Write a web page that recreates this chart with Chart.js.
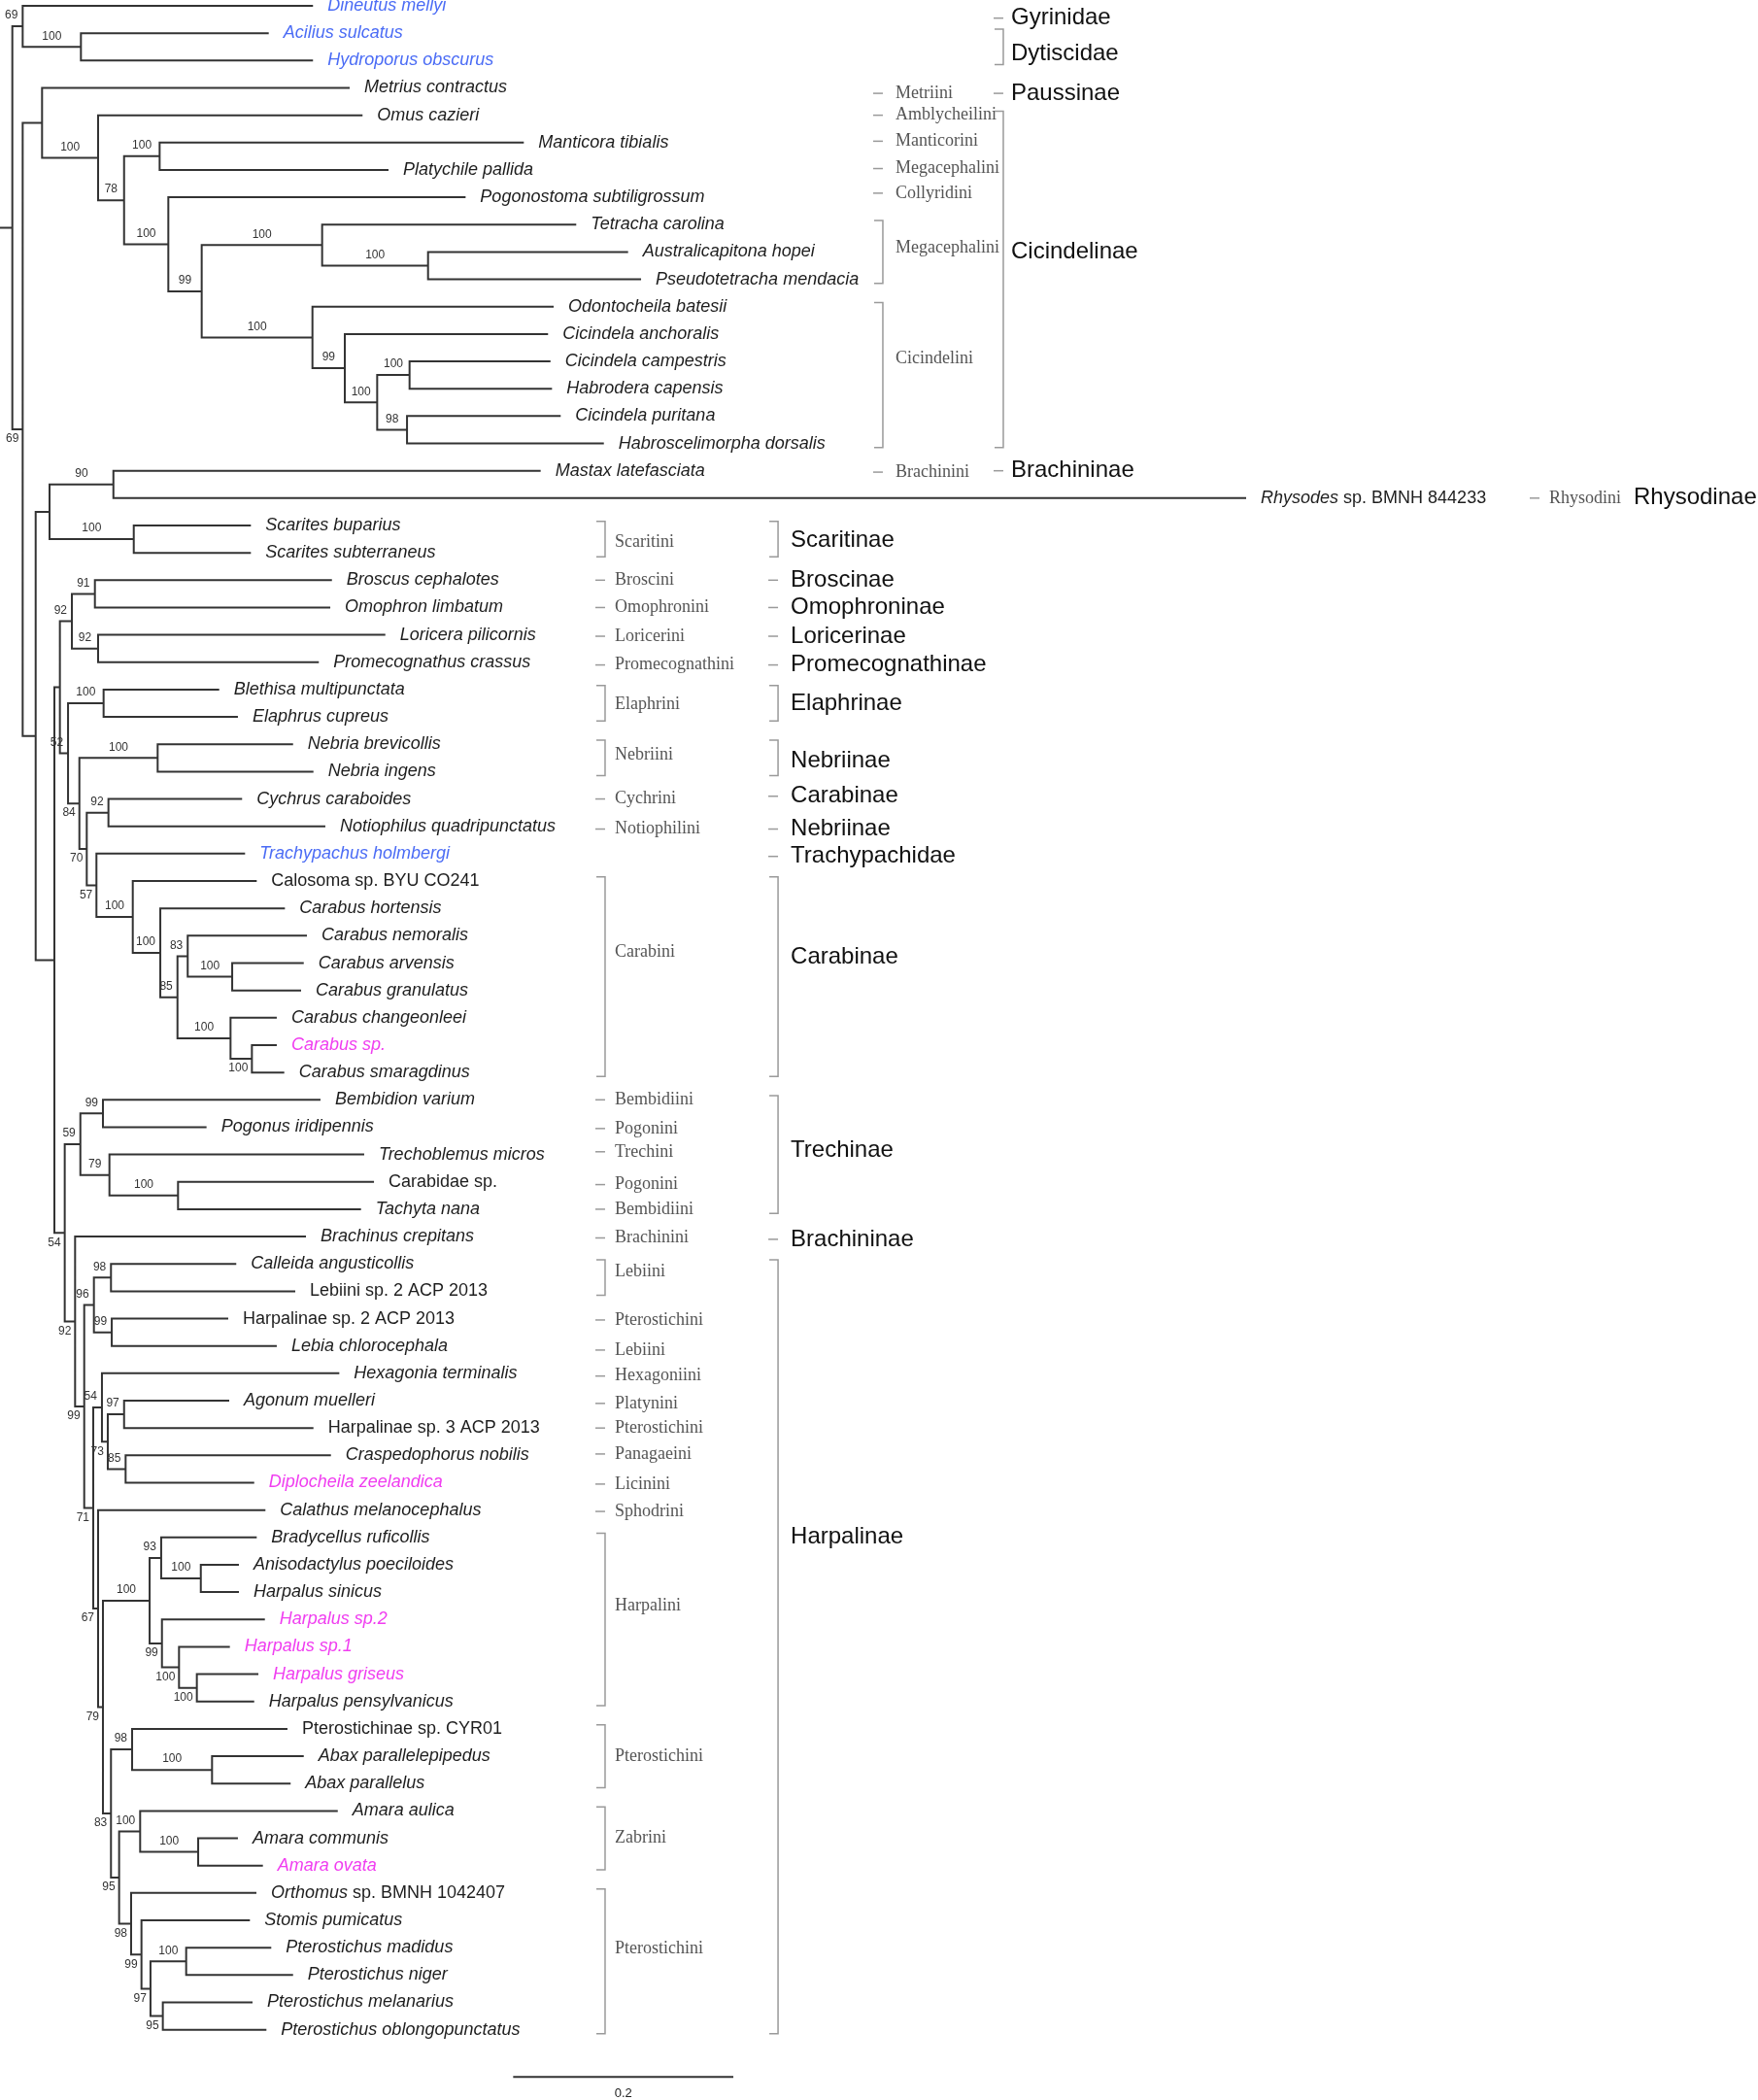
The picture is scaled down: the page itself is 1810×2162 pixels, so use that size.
<!DOCTYPE html>
<html>
<head>
<meta charset="utf-8">
<title>Carabidae phylogeny</title>
<script src="https://cdn.jsdelivr.net/npm/chart.js@4.4.1/dist/chart.umd.min.js"></script>
<style>
  html, body { margin: 0; padding: 0; background: #fff; }
  #wrap { width: 1810px; height: 2162px; }
</style>
</head>
<body>
<div id="wrap"><canvas id="tree" width="1810" height="2162"></canvas></div>
<script>
// ── taxa, top to bottom (row index = position in this list)
const taxa = [
  "Dineutus mellyi", "Acilius sulcatus", "Hydroporus obscurus", "Metrius contractus",
  "Omus cazieri", "Manticora tibialis", "Platychile pallida", "Pogonostoma subtiligrossum",
  "Tetracha carolina", "Australicapitona hopei", "Pseudotetracha mendacia", "Odontocheila batesii",
  "Cicindela anchoralis", "Cicindela campestris", "Habrodera capensis", "Cicindela puritana",
  "Habroscelimorpha dorsalis", "Mastax latefasciata", "Rhysodes sp. BMNH 844233", "Scarites buparius",
  "Scarites subterraneus", "Broscus cephalotes", "Omophron limbatum", "Loricera pilicornis",
  "Promecognathus crassus", "Blethisa multipunctata", "Elaphrus cupreus", "Nebria brevicollis",
  "Nebria ingens", "Cychrus caraboides", "Notiophilus quadripunctatus", "Trachypachus holmbergi",
  "Calosoma sp. BYU CO241", "Carabus hortensis", "Carabus nemoralis", "Carabus arvensis",
  "Carabus granulatus", "Carabus changeonleei", "Carabus sp.", "Carabus smaragdinus",
  "Bembidion varium", "Pogonus iridipennis", "Trechoblemus micros", "Carabidae sp.",
  "Tachyta nana", "Brachinus crepitans", "Calleida angusticollis", "Lebiini sp. 2 ACP 2013",
  "Harpalinae sp. 2 ACP 2013", "Lebia chlorocephala", "Hexagonia terminalis", "Agonum muelleri",
  "Harpalinae sp. 3 ACP 2013", "Craspedophorus nobilis", "Diplocheila zeelandica", "Calathus melanocephalus",
  "Bradycellus ruficollis", "Anisodactylus poeciloides", "Harpalus sinicus", "Harpalus sp.2",
  "Harpalus sp.1", "Harpalus griseus", "Harpalus pensylvanicus", "Pterostichinae sp. CYR01",
  "Abax parallelepipedus", "Abax parallelus", "Amara aulica", "Amara communis",
  "Amara ovata", "Orthomus sp. BMNH 1042407", "Stomis pumicatus", "Pterostichus madidus",
  "Pterostichus niger", "Pterostichus melanarius", "Pterostichus oblongopunctatus"
];

// distance of each tip from the root (substitutions/site)
const tipX = [
  0.2843, 0.2441, 0.2843, 0.3176, 0.3293, 0.4758, 0.3529, 0.4229, 0.5234, 0.5705,
  0.5823, 0.5029, 0.4978, 0.5000, 0.5014, 0.5093, 0.5485, 0.4911, 1.1319, 0.2279,
  0.2279, 0.3015, 0.3000, 0.3500, 0.2896, 0.1991, 0.2161, 0.2662, 0.2847, 0.2199,
  0.2955, 0.2226, 0.2332, 0.2588, 0.2788, 0.2759, 0.2735, 0.2514, 0.2514, 0.2582,
  0.2911, 0.1876, 0.3308, 0.3397, 0.3279, 0.2779, 0.2146, 0.2682, 0.2073, 0.2514,
  0.3082, 0.2082, 0.2847, 0.3006, 0.2309, 0.2411, 0.2332, 0.2170, 0.2170, 0.2406,
  0.2088, 0.2347, 0.2309, 0.2611, 0.2759, 0.2640, 0.3068, 0.2161, 0.2388, 0.2329,
  0.2270, 0.2464, 0.2662, 0.2294, 0.2420
];

const blueTaxa = [0, 1, 2, 31];
const pinkTaxa = [38, 54, 59, 60, 61, 68];
const romanTaxa = [32, 43, 47, 48, 52, 63];
const genusItalicOnly = [18, 69];

// internal nodes: id, distance from root, children (numbers = tips), bootstrap
const nodes = [
  ["root", 0.0112, ["N1", "N2"], null],
  ["N1", 0.0206, [0, "N1a"], 69],
  ["N1a", 0.0735, [1, 2], 100],
  ["N2", 0.0206, ["N3", "Nlow"], 69],
  ["N3", 0.0382, [3, "N4"], null],
  ["N4", 0.0891, [4, "N5"], 100],
  ["N5", 0.1127, ["N6", "N7"], 78],
  ["N6", 0.1450, [5, 6], 100],
  ["N7", 0.1529, [7, "N8"], 100],
  ["N8", 0.1832, ["N9", "N10"], 99],
  ["N9", 0.2926, [8, "N9a"], 100],
  ["N9a", 0.3888, [9, 10], 100],
  ["N10", 0.2838, [11, "N11"], 100],
  ["N11", 0.3132, [12, "N12"], 99],
  ["N12", 0.3426, ["N13", "N14"], 100],
  ["N13", 0.3720, [13, 14], 100],
  ["N14", 0.3697, [15, 16], 98],
  ["Nlow", 0.0324, ["N15", "N16"], null],
  ["N15", 0.0450, ["N15a", "Nsc"], null],
  ["N15a", 0.1030, [17, 18], 90],
  ["Nsc", 0.1215, [19, 20], 100],
  ["N16", 0.0494, ["D", "N54"], null],
  ["D", 0.0544, ["A", "E"], null],
  ["A", 0.0653, ["B", "C"], 92],
  ["B", 0.0862, [21, 22], 91],
  ["C", 0.0891, [23, 24], 92],
  ["E", 0.0618, ["El", "F"], 52],
  ["El", 0.0941, [25, 26], 100],
  ["F", 0.0721, ["Neb", "G"], 84],
  ["Neb", 0.1432, [27, 28], 100],
  ["G", 0.0788, ["Cy", "H"], 70],
  ["Cy", 0.0985, [29, 30], 92],
  ["H", 0.0876, [31, "I"], 57],
  ["I", 0.1206, [32, "J"], 100],
  ["J", 0.1456, [33, "K"], 100],
  ["K", 0.1612, ["L", "M"], 85],
  ["L", 0.1705, [34, "Nn"], 83],
  ["Nn", 0.2109, [35, 36], 100],
  ["M", 0.2094, [37, "O"], 100],
  ["O", 0.2288, [38, 39], 100],
  ["N54", 0.0588, ["T", "P"], 54],
  ["T", 0.0730, ["T1", "T2"], 59],
  ["T1", 0.0935, [40, 41], 99],
  ["T2", 0.0994, [42, "T3"], 79],
  ["T3", 0.1617, [43, 44], 100],
  ["P", 0.0682, [45, "Q"], 92],
  ["Q", 0.0765, ["Rq1", "Rq2"], 99],
  ["Rq1", 0.0853, ["Le1", "Le2"], 96],
  ["Le1", 0.1008, [46, 47], 98],
  ["Le2", 0.1015, [48, 49], 99],
  ["Rq2", 0.0847, ["S", "U"], 71],
  ["S", 0.0926, [50, "S1"], 54],
  ["S1", 0.0979, ["S2", "S3"], 73],
  ["S2", 0.1127, [51, 52], 97],
  ["S3", 0.1141, [53, 54], 85],
  ["U", 0.0891, [55, "U3"], 67],
  ["U3", 0.0935, ["X", "AC"], 79],
  ["X", 0.1359, ["V", "Y"], 100],
  ["V", 0.1464, [56, "W"], 93],
  ["W", 0.1824, [57, 58], 100],
  ["Y", 0.1471, [59, "Z"], 99],
  ["Z", 0.1626, [60, "Z2"], 100],
  ["Z2", 0.1788, [61, 62], 100],
  ["AC", 0.1008, ["AA", "AD"], 83],
  ["AA", 0.1200, [63, "AB"], 98],
  ["AB", 0.1926, [64, 65], 100],
  ["AD", 0.1082, ["AE", "AF"], 95],
  ["AE", 0.1273, [66, "AG"], 100],
  ["AG", 0.1800, [67, 68], 100],
  ["AF", 0.1191, [69, "AH"], 98],
  ["AH", 0.1285, [70, "AI"], 99],
  ["AI", 0.1367, ["AJ", "AK"], 97],
  ["AJ", 0.1691, [71, 72], 100],
  ["AK", 0.1479, [73, 74], 95]
];
// bootstrap values printed under the branch instead of above it
const labelsBelow = ["N2", "F", "G", "H", "O", "N54", "P", "Q", "Rq2", "S1", "U", "U3",
  "Y", "Z", "Z2", "AC", "AD", "AF", "AH", "AI", "AK"];

// tribes / subfamilies: [name, row] or [name, firstRow, lastRow, labelRow]
const tribeSingles = [
  ["Metriini", 3.2], ["Amblycheilini", 4], ["Manticorini", 4.95], ["Megacephalini", 5.95],
  ["Collyridini", 6.85], ["Brachinini", 17.05], ["Rhysodini", 18], ["Broscini", 21],
  ["Omophronini", 22], ["Loricerini", 23.05], ["Promecognathini", 24.1], ["Cychrini", 29],
  ["Notiophilini", 30.1], ["Bembidiini", 40], ["Pogonini", 41.05], ["Trechini", 41.9],
  ["Pogonini", 43.1], ["Bembidiini", 44], ["Brachinini", 45.05], ["Pterostichini", 48.05],
  ["Lebiini", 49.15], ["Hexagoniini", 50.1], ["Platynini", 51.1], ["Pterostichini", 52],
  ["Panagaeini", 52.95], ["Licinini", 54.05], ["Sphodrini", 55.05]
];
const tribeGroups = [
  ["Megacephalini", 8, 10, 8.85], ["Cicindelini", 11, 16, 12.9], ["Scaritini", 19, 20, 19.6],
  ["Elaphrini", 25, 26, 25.55], ["Nebriini", 27, 28, 27.4], ["Carabini", 32, 39, 34.6],
  ["Lebiini", 46, 47, 46.3], ["Harpalini", 56, 62, 58.5], ["Pterostichini", 63, 65, 64],
  ["Zabrini", 66, 68, 67], ["Pterostichini", 69, 74, 71.05]
];
const subSingles = [
  ["Gyrinidae", 0.45], ["Paussinae", 3.2], ["Brachininae", 17], ["Rhysodinae", 18],
  ["Broscinae", 21], ["Omophroninae", 22], ["Loricerinae", 23.05], ["Promecognathinae", 24.1],
  ["Carabinae", 28.9], ["Nebriinae", 30.1], ["Trachypachidae", 31.1], ["Brachininae", 45.1]
];
const subGroups = [
  ["Dytiscidae", 1, 2, 1.75], ["Cicindelinae", 4, 16, 9], ["Scaritinae", 19, 20, 19.55],
  ["Elaphrinae", 25, 26, 25.5], ["Nebriinae", 27, 28, 27.6], ["Carabinae", 32, 39, 34.8],
  ["Trechinae", 40, 44, 41.85], ["Harpalinae", 46, 74, 56]
];

const scaleBarLen = 0.2;

// ── build tree geometry
const byId = {};
const parentOf = {};
nodes.forEach(([id, x, kids, sup]) => {
  byId[id] = { id, x, kids, sup };
  kids.forEach((k) => { if (typeof k === "string") parentOf[k] = id; });
});
function nodeY(n) {
  if (n.y === undefined) {
    const ys = n.kids.map(yOf);
    n.y = (Math.min(...ys) + Math.max(...ys)) / 2;
  }
  return n.y;
}
function yOf(c) { return typeof c === "number" ? c : nodeY(byId[c]); }
function xOf(c) { return typeof c === "number" ? tipX[c] : byId[c].x; }

const root = byId.root;
const branchPts = [{ x: 0, y: nodeY(root) }, { x: root.x, y: root.y }, { x: 0, y: null }];
nodes.forEach(([id]) => {
  const n = byId[id];
  nodeY(n);
  n.kids.forEach((c) => {
    branchPts.push({ x: n.x, y: n.y }, { x: n.x, y: yOf(c) }, { x: xOf(c), y: yOf(c) }, { x: n.x, y: null });
  });
});

// layout of the page (axis units)
const X_MAX = 1.5968, Y_MIN = -0.213, Y_MAX = 76.57;
const scaleBarRow = 75.73, scaleBarX = 0.4661;
const cols = {
  tribe: { top: [0.8019, 13], rhys: [1.3983, 10], mid: [0.5496, 10] },
  sub: { top: [0.9113, 8], rhys: [1.4768, 8], mid: [0.7067, 13] }
};
const colFor = (row) => (row < 17.5 ? "top" : row < 18.5 ? "rhys" : "mid");

const SANS = '"Liberation Sans", Arial, Helvetica, sans-serif';
const SERIF = '"Liberation Serif", "Times New Roman", serif';

const annotations = {
  id: "annotations",
  afterDatasetsDraw(chart) {
    const { ctx, scales: { x, y } } = chart;
    ctx.save();
    ctx.textBaseline = "middle";

    // tip labels
    taxa.forEach((name, i) => {
      const px = x.getPixelForValue(tipX[i]) + 15;
      const py = y.getPixelForValue(i);
      ctx.fillStyle = blueTaxa.includes(i) ? "#4b6cf5" : pinkTaxa.includes(i) ? "#f03ef0" : "#1e1e1e";
      let parts;
      if (romanTaxa.includes(i)) parts = [[name, false]];
      else if (genusItalicOnly.includes(i)) {
        const k = name.indexOf(" ");
        parts = [[name.slice(0, k), true], [name.slice(k), false]];
      } else parts = [[name, true]];
      let cx = px;
      ctx.textAlign = "left";
      parts.forEach(([t, it]) => {
        ctx.font = (it ? "italic " : "") + "18px " + SANS;
        ctx.fillText(t, cx, py);
        cx += ctx.measureText(t).width;
      });
    });

    // bootstrap values
    ctx.font = "12px " + SANS;
    ctx.fillStyle = "#333";
    nodes.forEach(([id, nx, kids, sup]) => {
      if (sup === null || !parentOf[id]) return;
      const n = byId[id];
      const px = x.getPixelForValue(byId[parentOf[id]].x);
      const qx = x.getPixelForValue(nx);
      const qy = y.getPixelForValue(n.y);
      const t = String(sup);
      const w = ctx.measureText(t).width;
      if (labelsBelow.includes(id)) {
        ctx.textAlign = "right";
        ctx.fillText(t, qx - 4, qy + 10);
      } else {
        let cx = (px + qx) / 2;
        if (cx + w / 2 > qx - 5) cx = qx - 5 - w / 2;
        ctx.textAlign = "center";
        ctx.fillText(t, cx, qy - 11);
      }
    });

    // tribe and subfamily columns
    function drawColumn(singles, groups, kind, font, color) {
      ctx.font = font;
      ctx.textAlign = "left";
      singles.forEach(([name, row]) => {
        const [ux, off] = cols[kind][colFor(row)];
        const bx = x.getPixelForValue(ux);
        const py = y.getPixelForValue(row);
        if (!(kind === "sub" && colFor(row) === "rhys")) {
          ctx.strokeStyle = "#9a9a9a";
          ctx.lineWidth = 1.5;
          ctx.beginPath();
          ctx.moveTo(bx - 10, py);
          ctx.lineTo(bx, py);
          ctx.stroke();
        }
        ctx.fillStyle = color;
        ctx.fillText(name, bx + off, py);
      });
      groups.forEach(([name, r0, r1, lr]) => {
        const [ux, off] = cols[kind][colFor(r0)];
        const bx = x.getPixelForValue(ux);
        const y0 = y.getPixelForValue(r0 - 0.15);
        const y1 = y.getPixelForValue(r1 + 0.15);
        ctx.strokeStyle = "#9a9a9a";
        ctx.lineWidth = 1.5;
        ctx.beginPath();
        ctx.moveTo(bx - 9, y0);
        ctx.lineTo(bx, y0);
        ctx.lineTo(bx, y1);
        ctx.lineTo(bx - 9, y1);
        ctx.stroke();
        ctx.fillStyle = color;
        ctx.fillText(name, bx + off, y.getPixelForValue(lr));
      });
    }
    drawColumn(tribeSingles, tribeGroups, "tribe", "18px " + SERIF, "#555");
    drawColumn(subSingles, subGroups, "sub", "24px " + SANS, "#111");

    // scale bar label
    ctx.font = "13px " + SANS;
    ctx.fillStyle = "#222";
    ctx.textAlign = "center";
    ctx.fillText(String(scaleBarLen), x.getPixelForValue(scaleBarX + scaleBarLen / 2), y.getPixelForValue(scaleBarRow) + 17);
    ctx.restore();
  }
};

new Chart(document.getElementById("tree"), {
  type: "scatter",
  data: {
    datasets: [
      {
        data: branchPts,
        showLine: true,
        borderColor: "#333",
        borderWidth: 2,
        borderJoinStyle: "miter",
        pointRadius: 0,
        tension: 0,
        spanGaps: false,
        clip: false
      },
      {
        data: [{ x: scaleBarX, y: scaleBarRow }, { x: scaleBarX + scaleBarLen, y: scaleBarRow }],
        showLine: true,
        borderColor: "#333",
        borderWidth: 2,
        pointRadius: 0,
        clip: false
      }
    ]
  },
  options: {
    responsive: false,
    animation: false,
    devicePixelRatio: 1,
    events: [],
    layout: { padding: 0, autoPadding: false },
    plugins: { legend: { display: false }, tooltip: { enabled: false } },
    scales: {
      x: { type: "linear", display: false, min: 0, max: X_MAX },
      y: { type: "linear", display: false, min: Y_MIN, max: Y_MAX, reverse: true }
    }
  },
  plugins: [annotations]
});
</script>
</body>
</html>
